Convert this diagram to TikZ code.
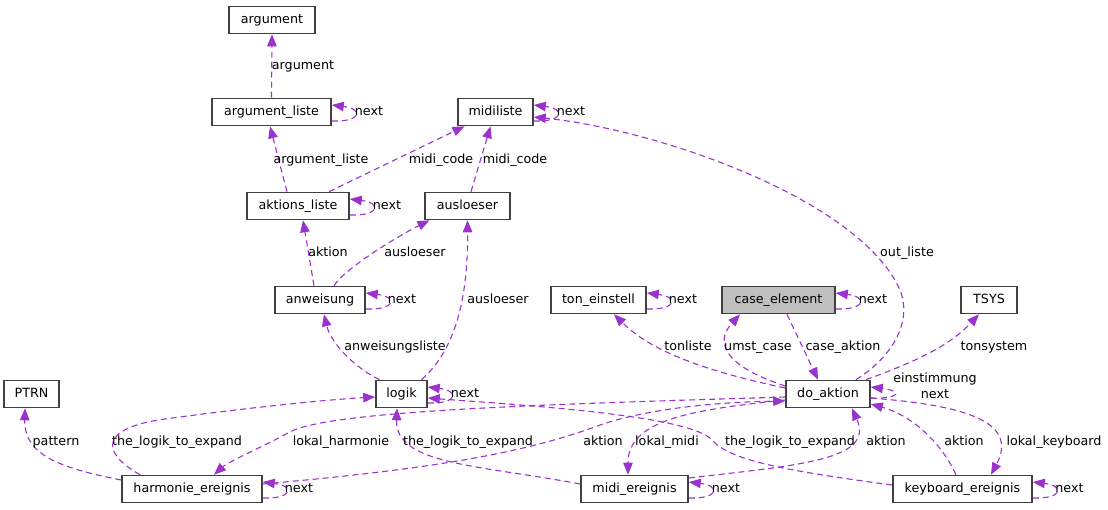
\documentclass[tikz,border=0pt]{standalone}
\usepackage{fontspec}
\setmainfont{DejaVu Sans}
\usepackage{xcolor}
\usetikzlibrary{positioning, arrows.meta, calc}
\definecolor{edgepurple}{HTML}{9A32CD}
\definecolor{boxline}{HTML}{404040}
\definecolor{boxgrey}{HTML}{BFBFBF}

\begin{document}
\begin{tikzpicture}[x=1pt, y=-1pt,
          every node/.style={font=\fontsize{12.7}{15}\selectfont},
          cls/.style={draw=boxline, line width=1.6pt, fill=white, minimum height=27pt, minimum width=#1, inner sep=0pt, text height=9pt, text depth=2.5pt},
          edg/.style={draw=edgepurple, line width=1.1pt, dash pattern=on 6pt off 4pt, -{Triangle[length=12pt, width=9.5pt]}},
          lbl/.style={inner sep=0pt, text height=9pt, text depth=2.5pt},
        ]
        \useasboundingbox (0,0) rectangle (1108,509);
        % classes
        \node[cls=86]  (argument)    at (272,20)    {argument};
        \node[cls=119] (argliste)    at (271.5,112) {argument\_liste};
        \node[cls=75]  (midiliste)   at (495.5,112) {midiliste};
        \node[cls=102] (aktliste)    at (298,206)   {aktions\_liste};
        \node[cls=85]  (ausloeser)   at (467.5,206) {ausloeser};
        \node[cls=90]  (anweisung)   at (320,300)   {anweisung};
        \node[cls=95]  (toneinstell) at (598.5,300) {ton\_einstell};
        \node[cls=113, fill=boxgrey] (caseel) at (778.5,300) {case\_element};
        \node[cls=56]  (tsys)        at (989,300)   {TSYS};
        \node[cls=55]  (ptrn)        at (31.5,394)  {PTRN};
        \node[cls=51]  (logik)       at (401.5,394) {logik};
        \node[cls=84]  (doaktion)    at (828,394)   {do\_aktion};
        \node[cls=140] (harmonie)    at (192,489)   {harmonie\_ereignis};
        \node[cls=107] (midiev)      at (634.5,489) {midi\_ereignis};
        \node[cls=139] (keyboard)    at (962.5,489) {keyboard\_ereignis};
        % members
        \draw[edg] (argliste.north) -- (argument.south);
        \draw[edg] ($(aktliste.north)+(-11,0)$) -- ($(argliste.south)+(-1.5,0)$);
        \draw[edg] ($(aktliste.north)+(31,0)$) -- ($(midiliste.south)+(-31,0)$);
        \draw[edg] ($(ausloeser.north)+(3.5,0)$) -- ($(midiliste.south)+(-5,0)$);
        \draw[edg] ($(doaktion.north)+(28,0)$) .. controls (895,355) and (912,320) .. (900,290)
                   .. controls (860,200) and (660,130) .. ($(midiliste.east)+(0,5)$);
        \draw[edg] ($(anweisung.north)+(-6,0)$) -- ($(aktliste.south)+(5,0)$);
        \draw[edg] ($(anweisung.north)+(14,0)$) .. controls (345,268) and (400,235) .. ($(ausloeser.south)+(-38,0)$);
        \draw[edg] ($(logik.north)+(-22,0)$) .. controls (350,365) and (330,340) .. ($(anweisung.south)+(4,0)$);
        \draw[edg] ($(logik.north)+(20,0)$) .. controls (455,350) and (468,300) .. (ausloeser.south);
        \draw[edg] ($(harmonie.west)+(0,-9)$) .. controls (60,468) and (24,455) .. ($(ptrn.south)+(-6.5,0)$);
        \draw[edg] ($(harmonie.north)+(-52,0)$) .. controls (100,452) and (100,428) .. (165,419)
                   .. controls (230,410) and (320,400) .. ($(logik.west)+(0,3)$);
        \draw[edg] ($(doaktion.west)+(0,3)$) .. controls (560,404) and (330,410) .. (290,432)
                   .. controls (262,447) and (228,462) .. ($(harmonie.north)+(22,0)$);
        \draw[edg] ($(midiev.west)+(0,-5)$) .. controls (480,465) and (395,465) .. ($(logik.south)+(-4.5,0)$);
        \draw[edg] ($(harmonie.east)+(0,-5)$) .. controls (420,470) and (520,455) .. (600,425)
                   .. controls (650,408) and (720,402) .. ($(doaktion.west)+(0,7)$);
        \draw[edg] ($(doaktion.west)+(0,6)$) .. controls (690,410) and (628,420) .. ($(midiev.north)+(-6.5,0)$);
        \draw[edg] ($(midiev.east)+(0,-11)$) .. controls (800,465) and (875,460) .. ($(doaktion.south)+(24,0)$);
        \draw[edg] ($(keyboard.west)+(0,-4)$) .. controls (780,470) and (730,460) .. (712,440)
                   .. controls (690,415) and (520,405) .. ($(logik.east)+(0,4)$);
        \draw[edg] ($(doaktion.west)+(0,-6)$) .. controls (700,370) and (650,350) .. ($(toneinstell.south)+(15.5,0)$);
        \draw[edg] ($(doaktion.west)+(0,-8)$) .. controls (730,368) and (712,345) .. ($(caseel.south)+(-38.5,0)$);
        \draw[edg] ($(caseel.south)+(8.5,0)$) -- ($(doaktion.north)+(-10,0)$);
        \draw[edg] ($(doaktion.north)+(38,0)$) .. controls (920,360) and (950,345) .. ($(tsys.south)+(-10,0)$);
        \draw[edg] ($(keyboard.north)+(-6.5,0)$) .. controls (940,440) and (910,415) .. ($(doaktion.east)+(0,10)$);
        \draw[edg] ($(doaktion.east)+(0,4)$) .. controls (960,405) and (1020,420) .. ($(keyboard.north)+(28.5,0)$);
        % self references
        \draw[edg] ($(argliste.east)+(0,9)$) .. controls ($(argliste.east)+(30,10)$) and ($(argliste.east)+(32,-3)$) .. ($(argliste.east)+(0,-7)$);
        \draw[edg] ($(midiliste.east)+(0,9)$) .. controls ($(midiliste.east)+(30,10)$) and ($(midiliste.east)+(32,-3)$) .. ($(midiliste.east)+(0,-7)$);
        \draw[edg] ($(aktliste.east)+(0,9)$) .. controls ($(aktliste.east)+(30,10)$) and ($(aktliste.east)+(32,-3)$) .. ($(aktliste.east)+(0,-7)$);
        \draw[edg] ($(anweisung.east)+(0,9)$) .. controls ($(anweisung.east)+(30,10)$) and ($(anweisung.east)+(32,-3)$) .. ($(anweisung.east)+(0,-7)$);
        \draw[edg] ($(toneinstell.east)+(0,9)$) .. controls ($(toneinstell.east)+(30,10)$) and ($(toneinstell.east)+(32,-3)$) .. ($(toneinstell.east)+(0,-7)$);
        \draw[edg] ($(caseel.east)+(0,9)$) .. controls ($(caseel.east)+(30,10)$) and ($(caseel.east)+(32,-3)$) .. ($(caseel.east)+(0,-7)$);
        \draw[edg] ($(logik.east)+(0,9)$) .. controls ($(logik.east)+(30,10)$) and ($(logik.east)+(32,-3)$) .. ($(logik.east)+(0,-7)$);
        \draw[edg] ($(doaktion.east)+(0,4)$) .. controls ($(doaktion.east)+(30,5)$) and ($(doaktion.east)+(32,-3)$) .. ($(doaktion.east)+(0,-7)$);
        \draw[edg] ($(harmonie.east)+(0,9)$) .. controls ($(harmonie.east)+(30,10)$) and ($(harmonie.east)+(32,-3)$) .. ($(harmonie.east)+(0,-7)$);
        \draw[edg] ($(midiev.east)+(0,9)$) .. controls ($(midiev.east)+(30,10)$) and ($(midiev.east)+(32,-3)$) .. ($(midiev.east)+(0,-7)$);
        \draw[edg] ($(keyboard.east)+(0,9)$) .. controls ($(keyboard.east)+(30,10)$) and ($(keyboard.east)+(32,-3)$) .. ($(keyboard.east)+(0,-7)$);
        % edge labels
        \node[lbl] (l-argument)   at (303,66)   {argument};
        \node[lbl] (l-argliste)   at (321,160)  {argument\_liste};
        \node[lbl] (l-midicode1)  at (441,160)  {midi\_code};
        \node[lbl] (l-midicode2)  at (515,160)  {midi\_code};
        \node[lbl] (l-outliste)   at (907,253)  {out\_liste};
        \node[lbl] (l-aktion1)    at (328,253)  {aktion};
        \node[lbl] (l-ausloeser1) at (415,253)  {ausloeser};
        \node[lbl] (l-anwliste)   at (395,347)  {anweisungsliste};
        \node[lbl] (l-ausloeser2) at (498,300)  {ausloeser};
        \node[lbl] (l-pattern)    at (56,442)   {pattern};
        \node[lbl] (l-expand1)    at (177,442)  {the\_logik\_to\_expand};
        \node[lbl] (l-lokharm)    at (341,442)  {lokal\_harmonie};
        \node[lbl] (l-expand2)    at (468,442)  {the\_logik\_to\_expand};
        \node[lbl] (l-aktion2)    at (603,442)  {aktion};
        \node[lbl] (l-lokmidi)    at (667,442)  {lokal\_midi};
        \node[lbl] (l-tonliste)   at (688,347)  {tonliste};
        \node[lbl] (l-umstcase)   at (758,347)  {umst\_case};
        \node[lbl] (l-caseakt)    at (843,347)  {case\_aktion};
        \node[lbl] (l-tonsystem)  at (994,347)  {tonsystem};
        \node[lbl] (l-expand3)    at (790,442)  {the\_logik\_to\_expand};
        \node[lbl] (l-aktion3)    at (886,442)  {aktion};
        \node[lbl] (l-aktion4)    at (964,442)  {aktion};
        \node[lbl] (l-lokkey)     at (1054,442) {lokal\_keyboard};
        \node[lbl, align=center, font=\fontsize{12.7}{16}\selectfont] (l-einst) at (935,395) {einstimmung\\next};
        % next labels of the self references
        \node[lbl] (n-argliste)   at (369,112)  {next};
        \node[lbl] (n-midiliste)  at (571,112)  {next};
        \node[lbl] (n-aktliste)   at (387,206)  {next};
        \node[lbl] (n-anweisung)  at (402,300)  {next};
        \node[lbl] (n-toneinst)   at (683,300)  {next};
        \node[lbl] (n-caseel)     at (873,300)  {next};
        \node[lbl] (n-logik)      at (465,394)  {next};
        \node[lbl] (n-harmonie)   at (299,489)  {next};
        \node[lbl] (n-midiev)     at (726,489)  {next};
        \node[lbl] (n-keyboard)   at (1069.5,489) {next};
\end{tikzpicture}
\end{document}
